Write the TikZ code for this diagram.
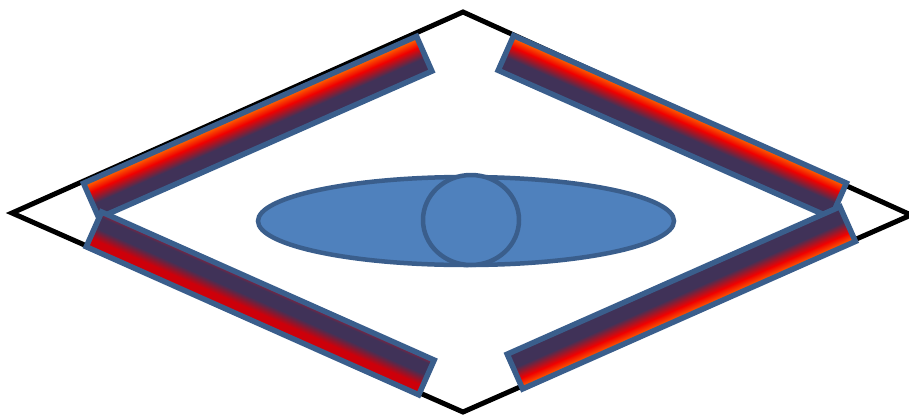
\documentclass[tikz,border=0pt]{standalone}
\usetikzlibrary{calc}

\definecolor{barnavy}{RGB}{64,50,88}
\definecolor{barred}{RGB}{240,0,0}
\definecolor{barorange}{RGB}{255,115,0}
\definecolor{bardark}{RGB}{205,0,10}
\definecolor{barpink}{RGB}{165,25,50}
\definecolor{edgeblue}{RGB}{58,94,140}
\definecolor{fillblue}{RGB}{79,129,189}

% the middle 50bp of a shading covers the path
\pgfdeclareverticalshading{hotnorth}{100bp}{color(0bp)=(barnavy); color(25bp)=(barnavy); color(45bp)=(barnavy); color(61bp)=(barred); color(75bp)=(barorange); color(100bp)=(barorange)}
\pgfdeclareverticalshading{hotsouth}{100bp}{color(0bp)=(barorange); color(25bp)=(barorange); color(39bp)=(barred); color(55bp)=(barnavy); color(100bp)=(barnavy)}
\pgfdeclareverticalshading{darksouth}{100bp}{color(0bp)=(bardark); color(25bp)=(bardark); color(38bp)=(bardark); color(53bp)=(barnavy); color(68bp)=(barnavy); color(75bp)=(barpink); color(100bp)=(barpink)}

\begin{document}
\begin{tikzpicture}[x=0.02cm, y=0.02cm,
    bar/.style={draw=edgeblue, line width=0.11cm},
    eye/.style={fill=fillblue, draw=edgeblue, line width=0.09cm}]
    \useasboundingbox (0,0) rectangle (909,414);

    \coordinate (L) at (12,201);
    \coordinate (T) at (463,402);
    \coordinate (R) at (911,199);
    \coordinate (B) at (463,2);

    \draw[line width=0.1cm] (L) -- (T) -- (R) -- (B) -- cycle;

    % turn the canvas so the shading turns with each bar
    \begin{scope}[shift={(257.7,286.8)}, rotate=23.8]
      \pgflowlevelsynccm
      \shade[bar, shading=hotnorth] (-182,-19) rectangle (182,19);
    \end{scope}
    \begin{scope}[shift={(672.3,287.3)}, rotate=-23.9]
      \pgflowlevelsynccm
      \shade[bar, shading=hotnorth] (-182,-19) rectangle (182,19);
    \end{scope}
    \begin{scope}[shift={(260.2,110.6)}, rotate=-24]
      \pgflowlevelsynccm
      \shade[bar, shading=darksouth] (-182,-19) rectangle (182,19);
    \end{scope}
    \begin{scope}[shift={(681.3,116.2)}, rotate=23.9]
      \pgflowlevelsynccm
      \shade[bar, shading=hotsouth] (-182,-19) rectangle (182,19);
    \end{scope}

    \draw[eye] (466,193) ellipse [x radius=208, y radius=44];
    \draw[eye] (471,194) ellipse [x radius=48, y radius=45];
  \end{tikzpicture}
\end{document}
